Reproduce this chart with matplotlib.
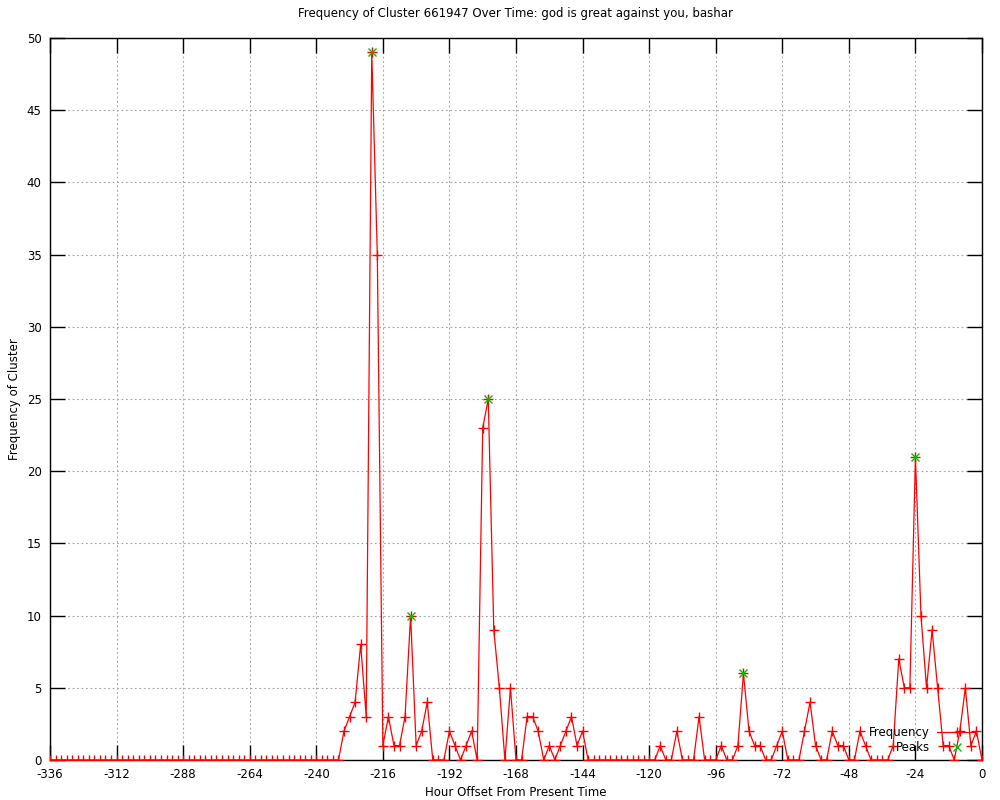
#!/usr/bin/env python3
"""Frequency of one cluster over the last two weeks, gnuplot-style line chart."""
import numpy as np
import matplotlib
matplotlib.use("Agg")
import matplotlib.pyplot as plt

# hour offsets, one sample every 2 hours
hours = np.arange(-336, 1, 2)

# counts per sample (-336 ... 0)
counts = [
    0, 0, 0, 0, 0, 0, 0, 0, 0, 0, 0, 0, 0,          # -336 .. -312
    0, 0, 0, 0, 0, 0, 0, 0, 0, 0, 0, 0,             # -310 .. -288
    0, 0, 0, 0, 0, 0, 0, 0, 0, 0, 0, 0,             # -286 .. -264
    0, 0, 0, 0, 0, 0, 0, 0, 0, 0, 0, 0,             # -262 .. -240
    0, 0, 0, 0,                                     # -238 .. -232
    2, 3, 4, 8, 3, 49, 35, 1, 3, 1, 1, 3, 10, 1,    # -230 .. -204
    2, 4, 0, 0, 0, 2, 1, 0, 1, 2, 0,                # -202 .. -182
    23, 25, 9, 5, 0, 5, 0, 0, 3, 3, 2, 0,           # -180 .. -158
    1, 0, 1, 2, 3, 1, 2, 0,                         # -156 .. -142
    0, 0, 0, 0, 0, 0, 0, 0, 0, 0, 0, 0,             # -140 .. -118
    1, 0, 0, 2, 0, 0, 0, 3, 0, 0, 0, 1, 0, 0,       # -116 .. -90
    1, 6, 2, 1, 1, 0, 0, 1, 2, 0, 0, 0,             # -88 .. -66
    2, 4, 1, 0, 0, 2, 1, 1, 0, 0, 2, 1,             # -64 .. -42
    0, 0, 0, 0, 1, 7, 5, 5, 21, 10, 5, 9,           # -40 .. -18
    5, 1, 1, 0, 2, 5, 1, 2, 0,                      # -16 .. 0
]

# detected peaks
peak_hours = [-220, -206, -178, -86, -24]
peak_counts = [49, 10, 25, 6, 21]

title = "Frequency of Cluster 661947 Over Time: god is great against you, bashar"
xticks = list(range(-336, 1, 24))
yticks = list(range(0, 51, 5))


def main():
    plt.rcParams["font.family"] = ["DejaVu Sans"]
    plt.rcParams["font.size"] = 8.5
    plt.rcParams["axes.unicode_minus"] = False

    fig = plt.figure(figsize=(10, 8), dpi=100)
    ax = fig.add_axes([0.05, 0.05, 0.932, 0.9025])

    ax.plot(hours, counts, color="#ff0000", lw=0.9, marker="+",
            markersize=7, markeredgewidth=1.0, label="Frequency", zorder=3)
    ax.plot(peak_hours, peak_counts, color="#00c000", lw=0, marker="x",
            markersize=5.5, markeredgewidth=1.0, label="Peaks", zorder=4)

    ax.set_xlim(-336, 0)
    ax.set_ylim(0, 50)
    ax.set_xticks(xticks)
    ax.set_yticks(yticks)
    ax.tick_params(direction="in", length=11, width=1, top=True, right=True,
                   labelsize=8.5, pad=6)
    ax.grid(True, color="#a0a0a0", lw=0.8, linestyle=(0, (1.5, 2.5)))
    for s in ax.spines.values():
        s.set_linewidth(1.0)

    ax.set_title(title, fontsize=8.5, pad=15)
    ax.set_xlabel("Hour Offset From Present Time", fontsize=8.5, labelpad=3)
    ax.set_ylabel("Frequency of Cluster", fontsize=8.5, labelpad=4)

    ax.legend(loc="lower right", bbox_to_anchor=(0.9936, 0.008), frameon=False,
              markerfirst=False, handlelength=3.3, handletextpad=0.6,
              labelspacing=0.15, borderpad=0, borderaxespad=0, fontsize=8.5)

    fig.savefig("out.png", dpi=100)
    plt.close(fig)


if __name__ == "__main__":
    main()
